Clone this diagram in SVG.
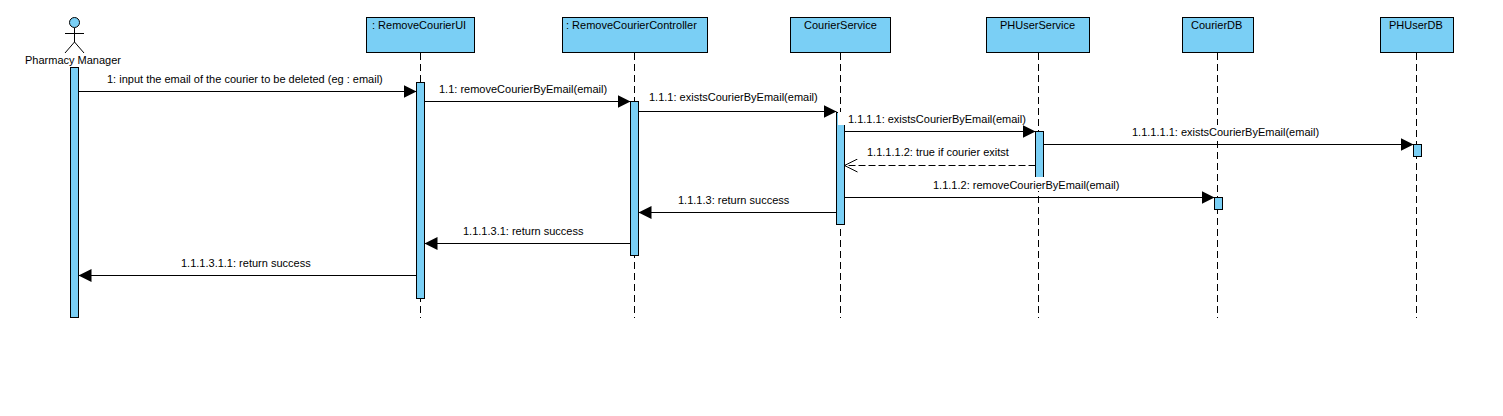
<svg xmlns="http://www.w3.org/2000/svg" width="1503" height="416" viewBox="0 0 1503 416">
<defs>
<marker id="solid" markerUnits="userSpaceOnUse" markerWidth="14" markerHeight="14" refX="13" refY="7" orient="auto"><path d="M0,0.5 L13,7 L0,13.5 Z" fill="#000"/></marker>
<marker id="open" markerUnits="userSpaceOnUse" markerWidth="14" markerHeight="14" refX="13" refY="7" orient="auto"><path d="M0,0.5 L13,7 L0,13.5" fill="none" stroke="#000" stroke-width="1"/></marker>
</defs>
<style>
text{font-family:"Liberation Sans",Arial,sans-serif;font-size:11px;fill:#000}
.m{text-anchor:middle}
.box,.act,.head{fill:#7acff5;stroke:#000;stroke-width:1}
.life{stroke:#000;stroke-width:1;stroke-dasharray:7 4;fill:none}
.msg{stroke:#000;stroke-width:1;fill:none;marker-end:url(#solid)}
.ret{stroke:#000;stroke-width:1;fill:none;stroke-dasharray:7 3;marker-end:url(#open)}
.stick{stroke:#000;stroke-width:1;fill:none}
.bg{fill:#fff;stroke:none}
</style>
<rect width="1503" height="416" fill="#fff"/>
<g id="lifelines">
<path class="life" d="M420.5,53V318"/>
<path class="life" d="M634.5,53V318"/>
<path class="life" d="M840.5,53V318"/>
<path class="life" d="M1038.500,53V318"/>
<path class="life" d="M1217.500,53V318"/>
<path class="life" d="M1416.500,53V318"/>
</g>
<g id="pharmacy-manager">
<circle class="head" cx="74.500" cy="22.500" r="5"/>
<path class="stick" d="M74.500,28V42M65,33.500H84M74.500,42L65,53M74.500,42L84,53"/>
<text x="25" y="64">Pharmacy Manager</text>
<rect class="act" x="70.500" y="67.500" width="8" height="250"/>
</g>
<g id="remove-courier-ui">
<rect class="box" x="366.500" y="17.500" width="108" height="35"/>
<text x="372" y="29">: RemoveCourierUI</text>
<rect class="act" x="416.500" y="82.500" width="8" height="216"/>
</g>
<g id="remove-courier-controller">
<rect class="box" x="562.500" y="17.500" width="145" height="35"/>
<text x="566" y="29">: RemoveCourierController</text>
<rect class="act" x="630.500" y="101.500" width="8" height="154"/>
</g>
<g id="courier-service">
<rect class="box" x="790.500" y="17.500" width="100" height="35"/>
<text x="804" y="29">CourierService</text>
<rect class="act" x="836.500" y="112.500" width="8" height="112"/>
</g>
<g id="ph-user-service">
<rect class="box" x="986.500" y="17.500" width="103" height="35"/>
<text x="1000" y="29">PHUserService</text>
<rect class="act" x="1035.500" y="131.500" width="8" height="46"/>
</g>
<g id="courier-db">
<rect class="box" x="1182.500" y="17.500" width="71" height="35"/>
<text x="1191" y="29">CourierDB</text>
<rect class="act" x="1214.500" y="197.500" width="8" height="12"/>
</g>
<g id="ph-user-db">
<rect class="box" x="1380.500" y="17.500" width="73" height="35"/>
<text x="1389" y="29">PHUserDB</text>
<rect class="act" x="1413.500" y="144.500" width="8" height="12"/>
</g>
<g id="label-backgrounds">
<rect class="bg" x="838" y="112" width="190" height="13"/>
<rect class="bg" x="1122" y="125" width="200" height="13"/>
<rect class="bg" x="930" y="177" width="192" height="14"/>
</g>
<g id="connectors">
<path class="msg" d="M78.500,91.500H416.500"/>
<path class="msg" d="M424.500,101.500H630.500"/>
<path class="msg" d="M638.500,111.500H836.500"/>
<path class="msg" d="M844.500,131.500H1035.500"/>
<path class="msg" d="M1043.500,144.500H1413.500"/>
<path class="ret" d="M1035.500,165.500H844.500"/>
<path class="msg" d="M844.500,197.500H1214.500"/>
<path class="msg" d="M836.500,212.500H638.500"/>
<path class="msg" d="M630.500,243.500H424.500"/>
<path class="msg" d="M416.500,275.500H78.500"/>
</g>
<g id="labels">
<text x="107" y="83">1: input the email of the courier to be deleted (eg : email)</text>
<text x="439" y="93">1.1: removeCourierByEmail(email)</text>
<text x="649" y="101">1.1.1: existsCourierByEmail(email)</text>
<text x="848" y="123">1.1.1.1: existsCourierByEmail(email)</text>
<text x="1132" y="136">1.1.1.1.1: existsCourierByEmail(email)</text>
<text x="867" y="156">1.1.1.1.2: true if courier exitst</text>
<text x="933" y="189">1.1.1.2: removeCourierByEmail(email)</text>
<text x="678" y="204">1.1.1.3: return success</text>
<text x="463" y="235">1.1.1.3.1: return success</text>
<text x="181" y="267">1.1.1.3.1.1: return success</text>
</g>
</svg>
